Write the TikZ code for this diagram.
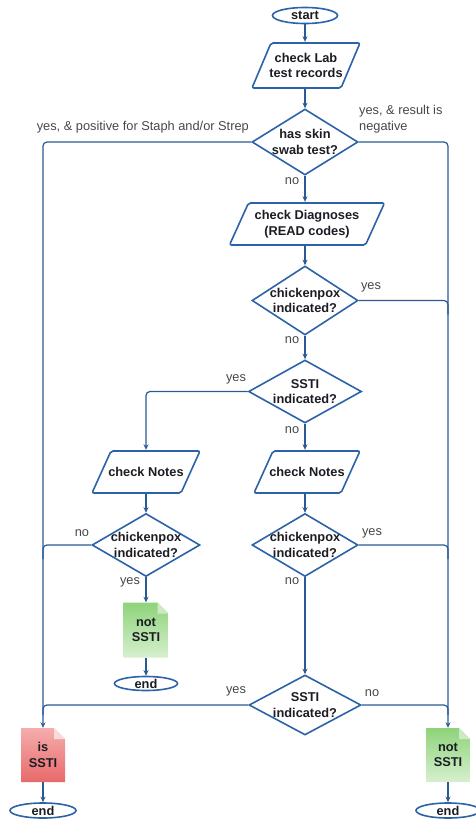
\documentclass[tikz,border=0pt]{standalone}
\usepackage{fontspec}
\setmainfont{Liberation Sans}
\usetikzlibrary{shapes.geometric,arrows.meta,calc}

\definecolor{flowblue}{HTML}{2C63A8}
\definecolor{linkblue}{HTML}{2A5A94}
\definecolor{inktext}{HTML}{1C1C24}
\definecolor{notetext}{HTML}{474747}
\definecolor{greentop}{HTML}{8ED37A}
\definecolor{greenbot}{HTML}{D6F0CE}
\definecolor{redtop}{HTML}{F5ADAD}
\definecolor{redbot}{HTML}{E8696A}

\tikzset{
  boxtext/.style={font=\fontsize{12.8}{15.5}\selectfont\bfseries, text=inktext, align=center},
  terminal/.style={ellipse, draw=flowblue, line width=1.6pt, fill=white,
    minimum width=65pt, minimum height=16pt, inner sep=0pt, boxtext},
  % slanted input box: a plain rectangle that paints a parallelogram inside itself
  iobox/.style 2 args={rectangle, minimum width=#1, minimum height=#2, inner sep=0pt, boxtext,
    path picture={
      \draw[draw=flowblue, line width=1.6pt, fill=white, rounded corners=2pt]
        ([xshift=1pt,yshift=1pt]path picture bounding box.south west)
        -- ([xshift=20pt,yshift=-1pt]path picture bounding box.north west)
        -- ([xshift=-1pt,yshift=-1pt]path picture bounding box.north east)
        -- ([xshift=-20pt,yshift=1pt]path picture bounding box.south east) -- cycle;
    }},
  decision/.style 2 args={diamond, draw=flowblue, line width=1.6pt, fill=white,
    inner sep=0pt, minimum width=#1, minimum height=#2},
  dectext/.style={boxtext, inner sep=0pt},
  docbox/.style 2 args={rectangle, minimum width=45pt, minimum height=55pt, inner sep=0pt, boxtext,
    path picture={
      \shade[top color=#1, bottom color=#2]
        (path picture bounding box.south west) -- (path picture bounding box.north west)
        -- ([xshift=-11pt]path picture bounding box.north east)
        -- ([yshift=-11pt]path picture bounding box.north east)
        -- (path picture bounding box.south east) -- cycle;
      \fill[#1!45!white]
        ([xshift=-11pt]path picture bounding box.north east)
        -- ([xshift=-11pt,yshift=-11pt]path picture bounding box.north east)
        -- ([yshift=-11pt]path picture bounding box.north east) -- cycle;
    }},
  link/.style={draw=linkblue, line width=1.2pt, rounded corners=4pt},
  arrow/.style={link, -{Stealth[length=5.5pt,width=5pt]}},
  note/.style={font=\fontsize{12.8}{15.5}\selectfont, text=notetext, align=left, inner sep=0pt},
}

\begin{document}
\begin{tikzpicture}[x=1pt,y=-1pt]
\useasboundingbox (0,0) rectangle (475,820);

% main column
\node[terminal] (start) at (305,15.5) {start};
\node[iobox={110pt}{47pt}] (lab) at (306,65.5) {check Lab\\test records};
\node[decision={106pt}{66pt}, label={[dectext]center:has skin\\swab test?}] (swab) at (305,142) {};
\node[iobox={157pt}{44pt}] (diag) at (307,224) {check Diagnoses\\(READ codes)};
\node[decision={106pt}{69pt}, label={[dectext]center:chickenpox\\indicated?}] (cpa) at (305,300.5) {};
\node[decision={113pt}{63pt}, label={[dectext]center:SSTI\\indicated?}] (ssa) at (305,391.5) {};

% notes branches
\node[iobox={110pt}{44pt}] (notesl) at (146,472) {check Notes};
\node[iobox={108pt}{44pt}] (notesr) at (307,472) {check Notes};
\node[decision={108pt}{63pt}, label={[dectext]center:chickenpox\\indicated?}] (cpb) at (146,545) {};
\node[decision={106pt}{63pt}, label={[dectext]center:chickenpox\\indicated?}] (cpc) at (305,545) {};
\node[docbox={greentop}{greenbot}] (notmid) at (146,630) {not\\SSTI};
\node[terminal, minimum width=63pt, minimum height=14pt] (endmid) at (146,683.5) {end};
\node[decision={112pt}{60pt}, label={[dectext]center:SSTI\\indicated?}] (ssb) at (305,705) {};

% outcomes
\node[docbox={redtop}{redbot}, minimum width=44pt, minimum height=54pt] (issti) at (43,755) {is\\SSTI};
\node[docbox={greentop}{greenbot}, minimum width=44pt, minimum height=54pt] (notr) at (448,755) {not\\SSTI};
\node[terminal, minimum width=66pt, minimum height=15pt] (endl) at (43,810.5) {end};
\node[terminal, minimum width=64pt, minimum height=15pt] (endr) at (448,810.5) {end};

% connectors
\draw[arrow] (start) -- (start |- lab.north);
\draw[arrow] (start |- lab.south) -- (swab);
\draw[arrow] (swab) -- (swab |- diag.north);
\draw[arrow] (swab |- diag.south) -- (cpa);
\draw[arrow] (cpa) -- (ssa);
\draw[arrow] (ssa.south) -- (ssa.south |- notesr.north);
\draw[arrow] (ssa.west) -| (notesl.north);
\draw[arrow] (notesl) -- (cpb);
\draw[arrow] (cpc |- notesr.south) -- (cpc);
\draw[arrow] (cpb) -- (notmid);
\draw[arrow] (notmid) -- (endmid);
\draw[arrow] (cpc) -- (ssb);
\draw[arrow] (swab.west) -| (issti.north);
\draw[arrow] (swab.east) -| (notr.north);
\draw[arrow] (issti) -- (endl);
\draw[arrow] (notr) -- (endr);

% branches joining the outer lines
\draw[link] (cpa.east) -| ($(cpa.east -| notr.north)+(0,14)$);
\draw[link] (cpc.east) -| ($(cpc.east -| notr.north)+(0,14)$);
\draw[link] (ssb.east) -| ($(ssb.east -| notr.north)+(0,10)$);
\draw[link] (cpb.west) -| ($(cpb.west -| issti.north)+(0,14)$);
\draw[link] (ssb.west) -| ($(ssb.west -| issti.north)+(0,10)$);

% branch labels
\node[note, anchor=east] (lpos) at (249,127) {yes, \& positive for Staph and/or Strep};
\node[note, anchor=west] (lneg) at (359,119) {yes, \& result is\\negative};
\node[note] (lno1) at (292,181) {no};
\node[note] (lyes1) at (371,287) {yes};
\node[note] (lno2) at (292,340) {no};
\node[note] (lyes2) at (236,379) {yes};
\node[note] (lno3) at (292,430) {no};
\node[note] (lno4) at (82,533) {no};
\node[note] (lyes3) at (130,582) {yes};
\node[note] (lyes4) at (372,533) {yes};
\node[note] (lno5) at (292,581) {no};
\node[note] (lyes5) at (236,691) {yes};
\node[note] (lno6) at (372,693) {no};
\end{tikzpicture}
\end{document}
